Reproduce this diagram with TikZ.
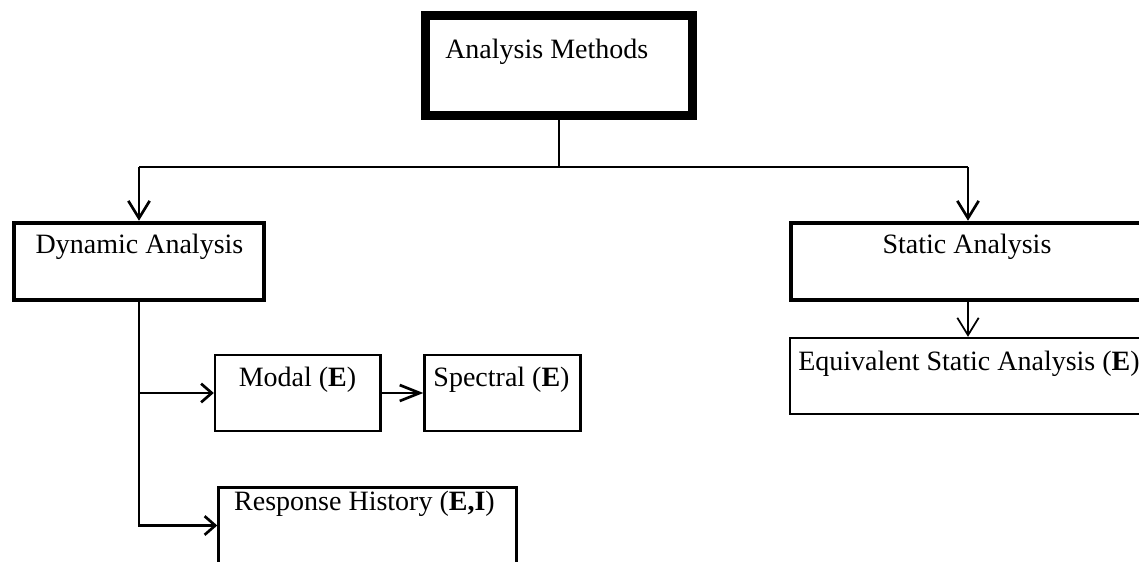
\documentclass[tikz,border=0pt]{standalone}
\usepackage{fontspec}
\setmainfont{Liberation Serif}
\usetikzlibrary{arrows.meta}
\begin{document}
\begin{tikzpicture}[x=0.75pt,y=-0.75pt,
  box/.style={draw, rectangle, inner sep=0pt},
  heavy/.style={box, line width=6.75pt},
  midbox/.style={box, line width=3.4pt},
  lightbox/.style={box, line width=1.8pt},
  lbl/.style={font=\fontsize{21}{25}\selectfont, inner sep=0pt, anchor=base},
  link/.style={line width=2pt},
  bigtip/.style={-{Straight Barb[length=13pt,width=16pt]}},
  smalltip/.style={-{Straight Barb[length=8pt,width=14pt]}},
  ]
\clip (0,0) rectangle (1139,561);
\fill[white] (0,0) rectangle (1139,561);

% boxes
\node[heavy, minimum width=267*0.75pt, minimum height=100*0.75pt] (am) at (559,65.5) {};
\node[midbox, minimum width=250*0.75pt, minimum height=77*0.75pt] (dyn) at (139,261.5) {};
\node[midbox, minimum width=354*0.75pt, minimum height=77*0.75pt] (stat) at (968,261.5) {};
\node[lightbox, minimum width=356*0.75pt, minimum height=76*0.75pt] (equiv) at (968,376) {};
\node[lightbox, minimum width=165.5*0.75pt, minimum height=76*0.75pt] (modal) at (297.75,393) {};
\node[lightbox, minimum width=156*0.75pt, minimum height=76*0.75pt] (spec) at (502.5,393) {};
\node[lightbox, minimum width=298*0.75pt, minimum height=76*0.75pt] (resp) at (367.5,525.5) {};

% labels
\node[lbl, anchor=base west] (tam) at (445,58) {Analysis Methods};
\node[lbl] (tdyn) at (139.5,253) {Dynamic Analysis};
\node[lbl] (tstat) at (967,253) {Static Analysis};
\node[lbl, anchor=base west] (tequiv) at (798,370) {Equivalent Static Analysis ({\bfseries E})};
\node[lbl] (tmodal) at (297.5,386) {Modal ({\bfseries E})};
\node[lbl] (tspec) at (501.5,386) {Spectral ({\bfseries E})};
\node[lbl] (tresp) at (364.5,510) {Response History ({\bfseries E,I})};

% connectors
\coordinate (busL) at (139,167);
\coordinate (busR) at (968,167);
\draw[link] (am.south) -- (am.south |- busL);
\draw[link] (busL) -- (busR);
\draw[link, bigtip] (busL) -- (dyn.north);
\draw[link, bigtip] (busR) -- (stat.north);
\draw[line width=1.3pt, bigtip] (stat.south) -- (equiv.north);
\draw[link, smalltip] (dyn.south) |- (resp.west);
\draw[link, smalltip] (dyn.south |- modal.west) -- (modal.west);
\draw[link, -{Straight Barb[length=15pt,width=12pt]}] (modal.east) -- (spec.west);
\end{tikzpicture}
\end{document}
